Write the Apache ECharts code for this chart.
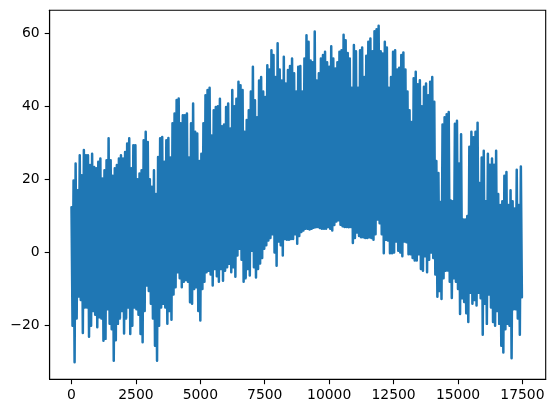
<!DOCTYPE html>
<html><head><meta charset="utf-8">
<style>html,body{margin:0;padding:0;background:#fff}#c{width:554px;height:413px}</style>
<script src="https://cdn.jsdelivr.net/npm/echarts@6/dist/echarts.min.js"></script>
</head><body><div id="c"></div>
<script>
const xTicks=[0,2500,5000,7500,10000,12500,15000,17500];
const yTicks=[-20,0,20,40,60];
const sampleStep=80;
const upperValues=[12.4,19.7,24.3,17,26.6,21.1,28,26.6,26.6,23.9,27,23.4,23,24.8,25.7,20.2,22.5,25.2,31.2,25.2,21,23,23.9,25.7,26.6,25.7,27.5,29.8,31.2,23,29.3,29.3,20,21.6,22.5,30.7,33,30.2,20,18,22.5,16,26.1,31.2,31.6,24.8,30.7,31.3,26,35.3,38,41.7,42.1,35.3,37.5,37.5,38,26,35.3,40.7,33,32.5,25,27,35.3,43,44.4,45,
32,38.9,39.8,40,42,34.5,35,39.8,40.7,33.9,44.4,40,42,46.7,45.7,44.4,33,36.2,38.9,44,50.8,41.6,37,47,48,44,42.5,51.2,50,55.3,54,48,57.2,50,47,53.5,46.2,49.9,51,53,49,44,50.8,51,44,53,59.4,57.6,52.5,52,60.4,47,49,53,54,54.9,52,50.8,56.4,53,50.3,52,54.9,55.3,59.5,58,54.5,53,45,56.7,55,45,55.3,
56,48,53.8,57.6,58.5,55,60.5,61,62,55,54.4,57.6,56,45,48,54.9,55.3,50,50.5,54,54.7,50,44,38.9,35.7,47.6,49.4,46,47.1,40,45.3,46.2,43,46.7,48,41.2,25,21.7,13.8,35,37,37.8,38.4,14.2,14,35.2,36,24.3,32.3,9,9,10,28.9,33,31.5,33,35.5,19,26,27.8,14,27,24,25.7,24,27.8,16,13,14,21,22,13,17,14,12,22.6,13,23.5];
const lowerValues=[-20,-30,-18,-12,-13,-22,-15,-15,-23,-20,-16,-17,-20.4,-17.7,-18,-24.1,-23.6,-15.5,-19.5,-21,-29.6,-24,-19.5,-18,-16,-22.1,-18,-15,-22.3,-20,-15,-15.5,-17,-22.3,-24.5,-16,-9,-10.5,-14,-18,-25.5,-29.6,-20,-15,-14,-15,-19.5,-16,-18.4,-11.5,-9.5,-5.4,-7,-9.5,-8,-7.5,-8,-13.6,-14,-10,-9.5,-16,-18.6,-10,-8,-5.4,-5,-6,
-9,-4.5,-6.5,-8,-4.5,-7.7,-5,-4,-3.1,-5.4,-4,-6.6,-0.8,1,-2,-8,-7,-4.5,-6.3,0.5,-4,-6.8,-4.5,-3,-1.5,1,2,3.3,4,5,0,-3.6,3,2,-0.8,3.7,3.5,3.5,3.7,3.7,5,2.4,4.5,5.6,6,6.5,6.5,6.3,6.5,6.8,6.9,7,6.7,6.5,6.5,6.5,7,6.5,6,7.5,8.5,8.8,7.6,7.2,7,7,6.9,7,2.6,4,5.5,4.5,4.2,4.2,4,4,4.2,4,3.5,5,
9,8,5,-0.2,3.5,3.3,-0.2,-0.2,0,3,0.5,0,-1,3,2.8,-0.5,-0.5,-1.5,-2.2,-2.2,-0.5,-4.5,-5,-1,-5.4,-2,0,-1.5,-6,-12.1,-10.5,-12.7,-7,-5,-4.9,-8,-12.4,-7,-8,-10,-16.8,-12.5,-13.5,-16.6,-19,-11,-14,-13,-14.5,-11,-12.5,-22.5,-14,-19.5,-11.5,-15,-19,-20,-16,-19.5,-25.5,-27.3,-21,-19.5,-20,-28.9,-15.5,-15.5,-18,-22.5,-12.2];
const points=[];
const n=Math.min(upperValues.length,lowerValues.length);
for(let i=0;i<n;i++){
  points.push([i*sampleStep,upperValues[i]]);
  points.push([i*sampleStep+sampleStep/2,lowerValues[i]]);
}
const labelStyle={color:'#000',fontFamily:'DejaVu Sans',fontSize:13.9};
const fmt=v=>String(v).replace('-','\u2212');
const chart=echarts.init(document.getElementById('c'),null,{renderer:'canvas'});
chart.setOption({
  animation:false,
  grid:{left:49.6,right:8.3,top:10.3,bottom:33.7,show:true,borderColor:'#000',borderWidth:1.1,backgroundColor:'#fff'},
  xAxis:{type:'value',min:-850,max:18404,splitLine:{show:false},
    axisLine:{show:true,onZero:false,lineStyle:{color:'#000',width:1.1}},
    axisTick:{show:true,length:4.9,customValues:xTicks,lineStyle:{color:'#000',width:1.1}},
    axisLabel:{...labelStyle,margin:9,customValues:xTicks,formatter:fmt}},
  yAxis:{type:'value',min:-34.65,max:66.2,splitLine:{show:false},
    axisLine:{show:true,onZero:false,lineStyle:{color:'#000',width:1.1}},
    axisTick:{show:true,length:4.9,customValues:yTicks,lineStyle:{color:'#000',width:1.1}},
    axisLabel:{...labelStyle,margin:10,padding:[2,0,0,0],customValues:yTicks,formatter:fmt}},
  series:[{type:'line',data:points,showSymbol:false,symbol:'none',sampling:false,silent:true,
    clip:true,lineStyle:{color:'#1f77b4',width:2.5,join:'round',cap:'round'}}]
});
</script></body></html>
